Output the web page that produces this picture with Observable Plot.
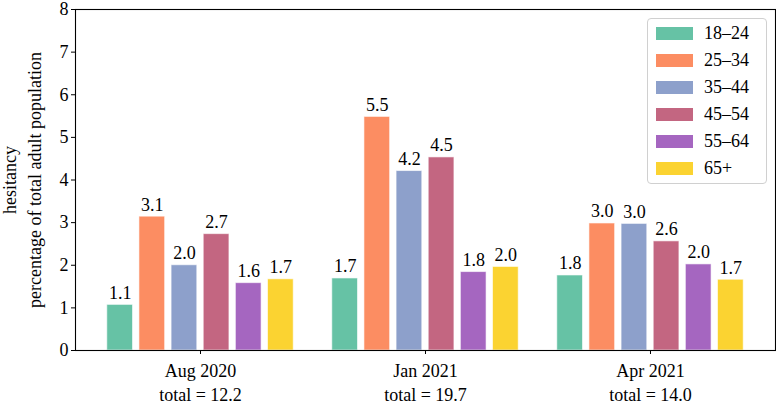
<!DOCTYPE html>
<html><head><meta charset="utf-8">
<script src="https://cdn.jsdelivr.net/npm/d3@7"></script>
<script src="https://cdn.jsdelivr.net/npm/@observablehq/plot@0.6"></script>
<style>
body{margin:0;background:#fff;font-family:"Liberation Serif","Times New Roman",serif}
#wrap{position:relative;width:776px;height:405px}
#legend{position:absolute;left:647px;top:18px;width:120px;height:166px;border:1px solid #d0d0d0;border-radius:4px;background:#fff;box-sizing:border-box}
.item{position:absolute;left:8px;height:13px;display:flex;align-items:center}
.sw{width:37px;height:13px;margin-right:11px}
.lb{font-size:18px;color:#000;line-height:13px}
</style></head>
<body><div id="wrap"><div id="legend"></div></div>
<script>
const periods = ["Aug 2020", "Jan 2021", "Apr 2021"];
const totals = ["12.2", "19.7", "14.0"];
const ages = ["18–24", "25–34", "35–44", "45–54", "55–64", "65+"];
const colors = ["#66c2a5", "#fc8d62", "#8da0cb", "#c36681", "#a566c0", "#fbd331"];
const aug2020 = [1.07, 3.14, 2.00, 2.73, 1.58, 1.67];
const jan2021 = [1.69, 5.48, 4.21, 4.53, 1.84, 1.96];
const apr2021 = [1.76, 2.98, 2.97, 2.56, 2.02, 1.66];
const yTicks = [0, 1, 2, 3, 4, 5, 6, 7, 8];
const yLabel = "hesitancy\npercentage of total adult population";

const series = [aug2020, jan2021, apr2021];
// each group occupies one unit; 7 slots per group (6 bars + gap), bar = 80% of a slot
const slot = 1 / 7, barW = 0.8 * slot;
const rows = periods.flatMap((p, i) => ages.map((a, j) => ({
  period: p, age: a, value: series[i][j], xc: i + (j - 2.5) * slot
})));
const font = '"Liberation Serif","Times New Roman",serif';

const plot = Plot.plot({
  width: 776, height: 405,
  marginLeft: 75, marginRight: 1, marginTop: 9, marginBottom: 55,
  style: {fontFamily: font, fontSize: "18px", background: "white", color: "black"},
  x: {domain: [-0.5556, 2.5556]},
  y: {domain: [0, 8]},
  color: {domain: ages, range: colors},
  marks: [
    Plot.rectY(rows, {x1: d => d.xc - barW / 2, x2: d => d.xc + barW / 2, y: "value", fill: "age", stroke: "white", strokeOpacity: 0.6, strokeWidth: 1}),
    Plot.text(rows, {x: "xc", y: "value", text: d => d.value.toFixed(1), dy: -6, lineAnchor: "bottom", fontSize: 18, fill: "black"}),
    Plot.frame({stroke: "black", strokeWidth: 1.1}),
    Plot.axisY({ticks: yTicks, tickSize: 4, tickPadding: 3, fontSize: 18, label: null}),
    Plot.axisX({ticks: [0, 1, 2], tickFormat: i => `${periods[i]}\ntotal = ${totals[i]}`, tickSize: 4, tickPadding: 6, fontSize: 18, lineHeight: 1.3, label: null}),
    Plot.text([yLabel], {frameAnchor: "left", textAnchor: "middle", rotate: -90, dx: -55, lineAnchor: "middle", lineHeight: 1.42, fontSize: 18, fill: "black"})
  ]
});
document.getElementById("wrap").prepend(plot);

const legend = document.getElementById("legend");
ages.forEach((a, i) => {
  const it = document.createElement("div");
  it.className = "item";
  it.style.top = (8 + i * 27) + "px";
  it.innerHTML = `<div class="sw" style="background:${colors[i]}"></div><span class="lb">${a}</span>`;
  legend.appendChild(it);
});
</script></body></html>
